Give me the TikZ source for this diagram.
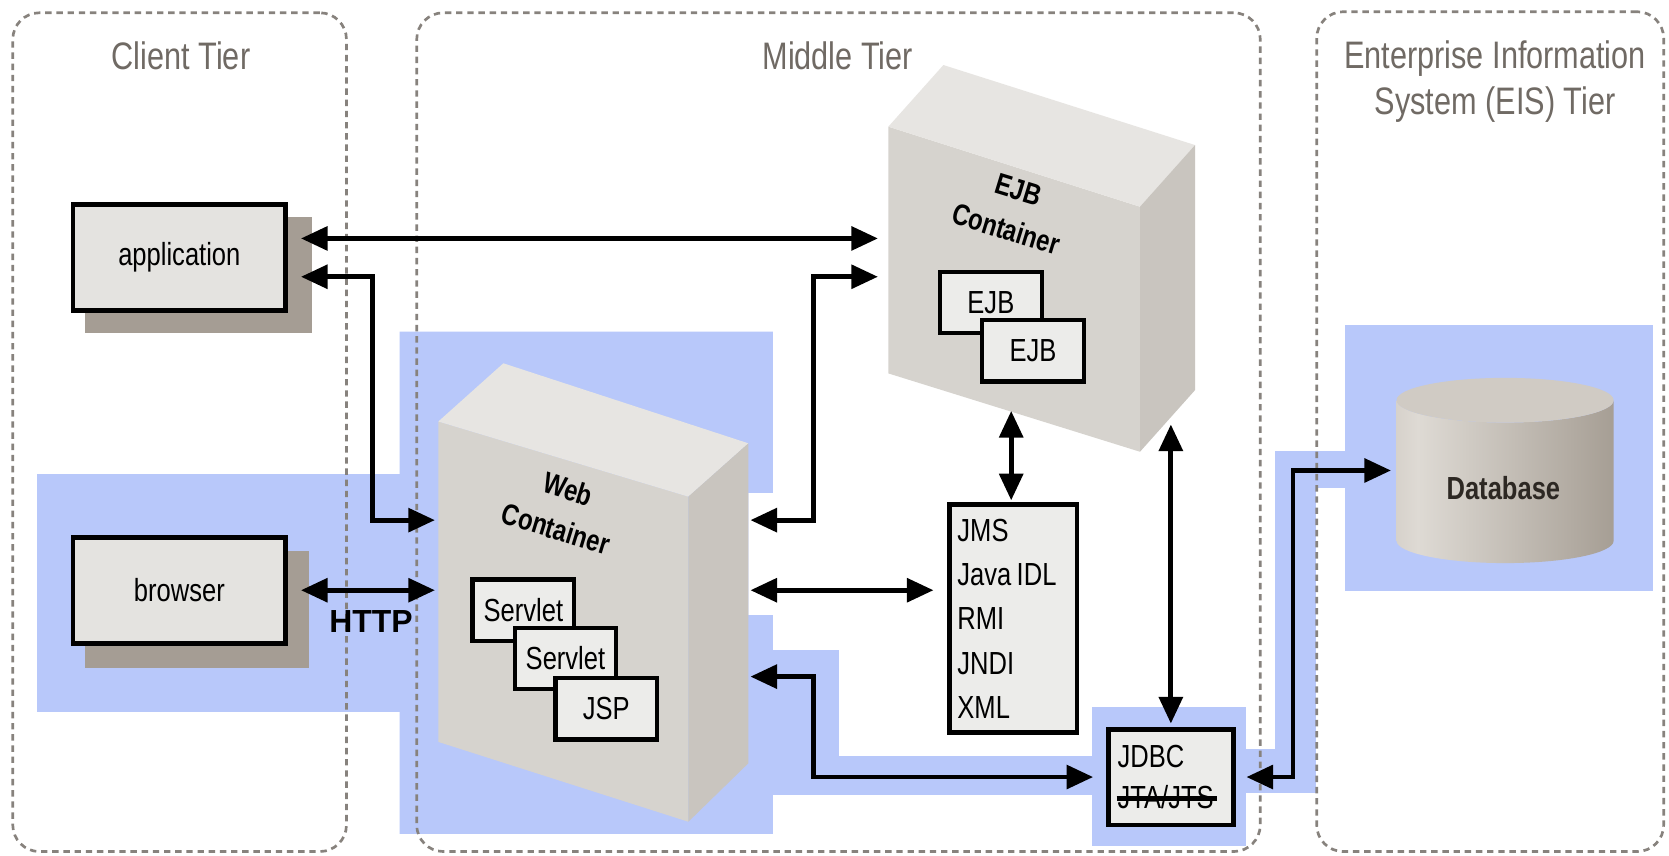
\documentclass[tikz,border=0pt]{standalone}
\usepackage{fontspec}
\setmainfont{Liberation Sans}
\newfontfamily\condfont[FakeStretch=0.8]{Liberation Sans}
\usetikzlibrary{arrows.meta,calc}

\definecolor{tierline}{RGB}{135,130,125}
\definecolor{tiertext}{RGB}{112,106,100}
\definecolor{hl}{RGB}{184,200,250}
\definecolor{boxfill}{RGB}{228,227,224}
\definecolor{shadowc}{RGB}{165,157,148}
\definecolor{frontc}{RGB}{214,211,206}
\definecolor{topc}{RGB}{231,229,226}
\definecolor{sidec}{RGB}{201,197,191}
\definecolor{innerfill}{RGB}{236,236,234}
\definecolor{dbA}{RGB}{178,170,160}
\definecolor{dbB}{RGB}{222,218,212}
\definecolor{dbC}{RGB}{135,125,113}
\definecolor{dbtop}{RGB}{208,203,196}

\pgfdeclarehorizontalshading{dbshade}{100bp}{color(0bp)=(dbA); color(30bp)=(dbB); color(100bp)=(dbC)}

\newcommand{\strikeword}[1]{\leavevmode\setbox0\hbox{#1}\rlap{\hspace{-1pt}\rule[7pt]{\dimexpr\wd0+4pt\relax}{4.5pt}}\box0}

\begin{document}
\begin{tikzpicture}[x=1pt,y=-1pt,
  tier/.style={draw=tierline, line width=2.5pt, dash pattern=on 6pt off 4.5pt, rounded corners=25pt, inner sep=0},
  tiertitle/.style={text=tiertext, font=\condfont\fontsize{36}{43}\selectfont, align=center, inner sep=0, anchor=north},
  clientbox/.style={draw=black, line width=4.5pt, fill=boxfill, minimum width=200, minimum height=99.5, inner sep=0, font=\condfont\fontsize{30}{36}\selectfont},
  innerbox/.style={draw=black, line width=4pt, fill=innerfill, minimum width=95.5, minimum height=57.5, inner sep=0, font=\condfont\fontsize{30}{36}\selectfont},
  listbox/.style={draw=black, line width=4.5pt, fill=innerfill, inner xsep=7, inner ysep=0, align=left},
  contlabel/.style={font=\condfont\bfseries\fontsize{28}{39}\selectfont, align=center, rotate=-17, inner sep=0},
  conn/.style={line width=4.5pt, {Triangle[length=25pt,width=22pt]}-{Triangle[length=25pt,width=22pt]}},
  shape3d/.style={inner sep=0}
]
\useasboundingbox (0,0) rectangle (1568,804);
\fill[white] (0,0) rectangle (1568,804);

% highlighted (blue) regions
\fill[hl] (35,445.5) rectangle (376,668.5);
\fill[hl] (375.5,311.6) -- (726,311.6) -- (726,463) -- (703,463) -- (703,578) -- (726,578) -- (726,783.5) -- (375.5,783.5) -- cycle;
\fill[hl] (726,610.7) rectangle (788,747);
\fill[hl] (788,710) rectangle (1026,747);
\fill[hl] (1026,664) rectangle (1171,794.5);
\fill[hl] (1171,704) rectangle (1236,745);
\fill[hl] (1198,423.4) rectangle (1236,745);
\fill[hl] (1198,423.4) rectangle (1264,458.5);
\fill[hl] (1263.6,305) rectangle (1552.7,555);

% tiers
\node[tier, minimum width=313.5, minimum height=788] (clienttier) at (168.75,406) {};
\node[tier, minimum width=792.5, minimum height=788] (middletier) at (787.75,406) {};
\node[tier, minimum width=326, minimum height=789] (eistier) at (1400,405.5) {};
\node[tiertitle] (clienttitle) at (170,39) {Client Tier};
\node[tiertitle] (middletitle) at (787,39) {Middle Tier};
\node[tiertitle] (eistitle) at (1404.6,38) {Enterprise Information\\System (EIS) Tier};

% client boxes with shadows
\fill[shadowc] (80,204) rectangle (293,313);
\fill[shadowc] (80,518) rectangle (290,628);
\node[clientbox] (app) at (168.5,242) {application};
\node[clientbox] (br) at (168.5,554.5) {browser};
\node[font=\bfseries\fontsize{30}{36}\selectfont, inner sep=0] (http) at (348.5,584) {HTTP};

% web container
\fill[frontc] (411.8,396) -- (646.7,466.6) -- (646.7,772) -- (411.8,697) -- cycle;
\fill[topc] (411.8,396) -- (472.9,341.3) -- (703.1,416.5) -- (646.7,466.6) -- cycle;
\fill[sidec] (646.7,466.6) -- (703.1,416.5) -- (703.1,717) -- (646.7,772) -- cycle;
\node[shape3d, minimum width=291.3, minimum height=430.7] (web) at (557.45,556.65) {};
\node[contlabel] (weblabel) at (528,478) {Web\\Container};
\node[innerbox] (sv1) at (491.7,573.1) {Servlet};
\node[innerbox] (sv2) at (531.25,618.45) {Servlet};
\node[innerbox] (jsp) at (569.65,665.95) {JSP};

% EJB container
\fill[frontc] (834.6,119) -- (1071,194.2) -- (1071,424.4) -- (834.6,350.8) -- cycle;
\fill[topc] (834.6,119) -- (886.3,61.1) -- (1122.7,136.3) -- (1071,194.2) -- cycle;
\fill[sidec] (1071,194.2) -- (1122.7,136.3) -- (1122.7,366.5) -- (1071,424.4) -- cycle;
\node[shape3d, minimum width=288.1, minimum height=363.3] (ejb) at (978.65,242.75) {};
\node[contlabel] (ejblabel) at (951,197) {EJB\\Container};
\node[innerbox] (ejb1) at (930.9,284.25) {EJB};
\node[innerbox] (ejb2) at (970.5,329.65) {EJB};

% services
\node[listbox, minimum width=119.5, minimum height=214, text width=105, font=\condfont\fontsize{30}{41.5}\selectfont] (jms) at (952,581.3) {JMS\\Java\hspace{5pt}IDL\\RMI\\JNDI\\XML};
\node[listbox, minimum width=117.5, minimum height=90, text width=100, font=\condfont\fontsize{30}{38}\selectfont] (jdbc) at (1100,730) {JDBC\\\strikeword{JTA/JTS}};

% database
\shade[shading=dbshade] (1312,376) -- (1312,508) arc[start angle=180, end angle=0, x radius=102, y radius=21] -- (1516,376) arc[start angle=0, end angle=180, x radius=102, y radius=21] -- cycle;
\fill[dbtop] (1414,376) ellipse[x radius=102, y radius=21];
\node[shape3d, minimum width=204, minimum height=176] (db) at (1414,442) {};
\node[font=\condfont\bfseries\fontsize{30}{36}\selectfont, text={rgb,255:red,45;green,40;blue,35}, inner sep=0] (dblabel) at (1412.4,458.5) {Database};

% connectors
\draw[conn] ($(app.east)+(12,-18)$) -- ($(ejb.west)+(-9.6,-18.75)$);
\draw[conn] ($(app.east)+(12,18)$) -- ++(67,0) |- ($(web.west)+(-3,-68)$);
\draw[conn] ($(web.east)+(1.7,-68)$) -- ++(59.5,0) |- ($(ejb.west)+(-9.6,17.25)$);
\draw[conn] ($(br.east)+(12,0)$) -- ($(br.east -| web.west)+(-3,0)$);
\draw[conn] ($(br.east -| web.east)+(1.7,0)$) -- ($(br.east -| jms.west)+(-13,0)$);
\draw[conn] ($(jms.north)+(-2,-2)$) -- ($(jms.north)+(-2,-86)$);
\draw[conn] ($(jdbc.north)+(0,-3)$) -- ($(jdbc.north)+(0,-284)$);
\draw[conn] ($(web.east)+(1.7,79)$) -- ++(59.5,0) |- ($(jdbc.west)+(-12,0)$);
\draw[conn] ($(jdbc.east)+(10,0)$) -- ++(43.7,0) |- ($(db.west)+(-5,0)$);
\end{tikzpicture}
\end{document}
